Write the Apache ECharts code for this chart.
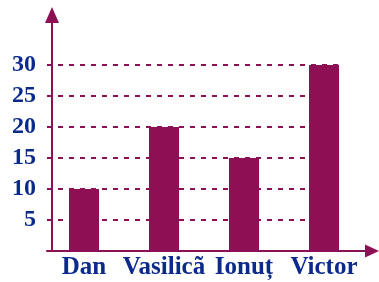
<!DOCTYPE html>
<html>
<head>
<meta charset="utf-8">
<script src="https://cdn.jsdelivr.net/npm/echarts@6/dist/echarts.min.js"></script>
<style>
  html, body { margin: 0; padding: 0; background: #fff; }
  #chart { width: 379px; height: 282px; }
</style>
</head>
<body>
<div id="chart"></div>
<script>
const names = ['Dan', 'Vasilicã', 'Ionuț', 'Victor'];
const values = [10, 20, 15, 30];
const yMin = 0;
const yMax = 30;
const yStep = 5;

const maroon = '#8E1054';
const navy = '#0B2A8C';
const labelFont = { color: navy, fontFamily: 'Liberation Serif', fontWeight: 'bold', fontSize: 24 };

const chart = echarts.init(document.getElementById('chart'));
chart.setOption({
  animation: false,
  backgroundColor: '#fff',
  grid: [
    // bars + labels
    { left: 44, right: 15, top: 65, bottom: 31 },
    // dashed guide lines
    { left: 47, right: 41, top: 65, bottom: 31 },
    // axis lines with arrows
    { left: 47, right: 7, top: 15, bottom: 31 }
  ],
  xAxis: [
    {
      gridIndex: 0,
      type: 'category',
      data: names,
      axisLine: { show: false },
      axisTick: { show: false },
      axisLabel: { ...labelFont, fontSize: 25, margin: 4, interval: 0, hideOverlap: false }
    },
    { gridIndex: 1, type: 'value', show: false },
    {
      gridIndex: 2,
      type: 'value',
      axisLine: { show: true, lineStyle: { color: maroon, width: 2 }, symbol: ['none', 'triangle'], symbolSize: [13, 14] },
      axisTick: { show: false },
      axisLabel: { show: false },
      splitLine: { show: false }
    }
  ],
  yAxis: [
    {
      gridIndex: 0,
      type: 'value',
      min: yMin,
      max: yMax,
      interval: yStep,
      axisLine: { show: false },
      axisTick: { show: false },
      splitLine: { show: false },
      axisLabel: { ...labelFont, margin: 8, formatter: (v) => (v === 0 ? '' : v) }
    },
    {
      gridIndex: 1,
      type: 'value',
      min: yMin,
      max: yMax,
      interval: yStep,
      axisLine: { show: false },
      axisTick: { show: false },
      axisLabel: { show: false },
      splitLine: { show: true, lineStyle: { color: maroon, width: 2, type: [5, 6] } }
    },
    {
      gridIndex: 2,
      type: 'value',
      offset: -5,
      axisLine: { show: true, onZero: false, lineStyle: { color: maroon, width: 2 }, symbol: ['none', 'triangle'], symbolSize: [14, 16] },
      axisTick: { show: false },
      axisLabel: { show: false },
      splitLine: { show: false }
    }
  ],
  series: [
    {
      type: 'bar',
      xAxisIndex: 0,
      yAxisIndex: 0,
      data: values,
      barWidth: 30,
      z: 3,
      itemStyle: { color: maroon }
    }
  ]
});
</script>
</body>
</html>
